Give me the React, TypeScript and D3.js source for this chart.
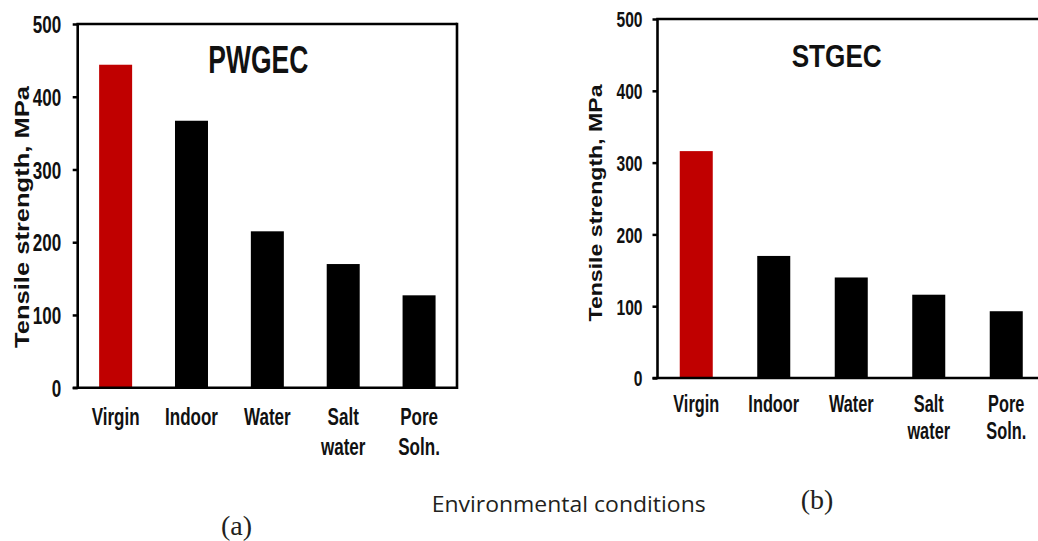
import * as React from "react";
import { select, scaleBand, scaleLinear, axisLeft } from "d3";

// categories (split into label lines)
const categories = ["Virgin", "Indoor", "Water", "Salt water", "Pore Soln."];
const categoryLines = [["Virgin"], ["Indoor"], ["Water"], ["Salt", "water"], ["Pore", "Soln."]];

// tensile strength, MPa
const pwgecValues = [444, 367, 215, 170, 127];
const stgecValues = [316, 170, 140, 116, 93];

const yTicks = [0, 100, 200, 300, 400, 500];
const barColors = ["#c00000", "#000000", "#000000", "#000000", "#000000"];

const SANS = "'Liberation Sans', Arial, sans-serif";
const SQUEEZE = 0.71; // narrow look of the original fonts

function Panel({ values, title, cfg }) {
    const axisRef = React.useRef();

    const xScale = scaleBand()
        .domain(categories)
        .range([cfg.x0, cfg.x1])
        .paddingInner(cfg.pad)
        .paddingOuter(cfg.pad / 2);

    const yScale = scaleLinear()
        .domain([0, 500])
        .range([cfg.yZero, cfg.yTop]);

    React.useEffect(() => {
        const g = select(axisRef.current);
        const yAxis = axisLeft(yScale)
            .tickValues(yTicks)
            .tickSize(5)
            .tickSizeOuter(0)
            .tickPadding(cfg.tickPad);
        g.call(yAxis);
        g.select(".domain").remove();
        g.selectAll(".tick line").attr("stroke", "#000").attr("stroke-width", 2.5);
        g.selectAll(".tick text")
            .attr("font-family", SANS)
            .attr("font-weight", "bold")
            .attr("font-size", cfg.tickFont)
            .attr("fill", "#111")
            .attr("dy", "0.36em")
            .attr("x", -(5 + cfg.tickPad) / SQUEEZE)
            .attr("transform", `scale(${SQUEEZE},1)`);
    }, [cfg]);

    return (
        <g>
            {values.map((v, i) => (
                <rect
                    key={categories[i]}
                    x={xScale(categories[i])}
                    width={xScale.bandwidth()}
                    y={yScale(v)}
                    height={yScale(0) - yScale(v)}
                    fill={barColors[i]}
                />
            ))}
            {/* frame */}
            <line x1={cfg.x0} x2={cfg.x0} y1={cfg.yTop} y2={cfg.yZero} stroke="#000" strokeWidth={2.6} />
            <line x1={cfg.x0 - 1.3} x2={cfg.x1} y1={cfg.yTop} y2={cfg.yTop} stroke="#000" strokeWidth={2.6} />
            <line x1={cfg.x0 - 5} x2={cfg.x1} y1={cfg.yZero} y2={cfg.yZero} stroke="#000" strokeWidth={2.6} />
            <line x1={cfg.x1} x2={cfg.x1} y1={cfg.yTop - 1.3} y2={cfg.yZero + 1.3} stroke="#000" strokeWidth={2.6} />
            <g ref={axisRef} transform={`translate(${cfg.x0},0)`} />

            {categoryLines.map((lines, i) =>
                lines.map((ln, j) => (
                    <g
                        key={categories[i] + j}
                        transform={`translate(${xScale(categories[i]) + xScale.bandwidth() / 2},${cfg.catBase[j]}) scale(${SQUEEZE},1)`}
                    >
                        <text textAnchor="middle" fontFamily={SANS} fontWeight="bold" fontSize={cfg.catFont} fill="#111">
                            {ln}
                        </text>
                    </g>
                ))
            )}

            <text
                x={cfg.title.x}
                y={cfg.title.y}
                textAnchor="middle"
                fontFamily={SANS}
                fontWeight="bold"
                fontSize={cfg.title.size}
                textLength={cfg.title.len}
                lengthAdjust="spacingAndGlyphs"
                fill="#111"
            >
                {title}
            </text>

            <text
                transform={`translate(${cfg.ylab.x},${cfg.ylab.y}) rotate(-90)`}
                textAnchor="middle"
                fontFamily={SANS}
                fontWeight="bold"
                fontSize={cfg.ylab.size}
                textLength={cfg.ylab.len}
                lengthAdjust="spacingAndGlyphs"
                fill="#111"
            >
                Tensile strength, MPa
            </text>
        </g>
    );
}

const cfgA = {
    x0: 77.7, x1: 457, yTop: 24, yZero: 387.7, pad: 0.565,
    tickPad: 11.5, tickFont: 24, catFont: 24, catBase: [425, 455],
    title: { x: 258.3, y: 73, size: 38, len: 100 },
    ylab: { x: 28.5, y: 217, size: 20, len: 262 },
};

const cfgB = {
    x0: 657.5, x1: 1045, yTop: 19, yZero: 378, pad: 0.574,
    tickPad: 10, tickFont: 22, catFont: 23, catBase: [412, 439],
    title: { x: 836.7, y: 67, size: 31, len: 90 },
    ylab: { x: 602, y: 203, size: 18, len: 237 },
};

export default function App() {
    return (
        <svg
            width={1038}
            height={541}
            style={{ position: "absolute", left: 0, top: 0, background: "#fff" }}
        >
            <rect width={1038} height={541} fill="#fff" />
            <Panel values={pwgecValues} title="PWGEC" cfg={cfgA} />
            <Panel values={stgecValues} title="STGEC" cfg={cfgB} />

            <text
                x={431.7}
                y={511.5}
                fontFamily="'Open Sans', 'Noto Sans', sans-serif"
                fontSize={22}
                textLength={274}
                lengthAdjust="spacingAndGlyphs"
                fill="#231f20"
            >
                Environmental conditions
            </text>
            <text x={800.7} y={509} fontFamily="'Liberation Serif', 'Times New Roman', serif" fontSize={28} fill="#231f20">
                (b)
            </text>
            <text x={221} y={535} fontFamily="'Liberation Serif', 'Times New Roman', serif" fontSize={28} fill="#231f20">
                (a)
            </text>
        </svg>
    );
}
